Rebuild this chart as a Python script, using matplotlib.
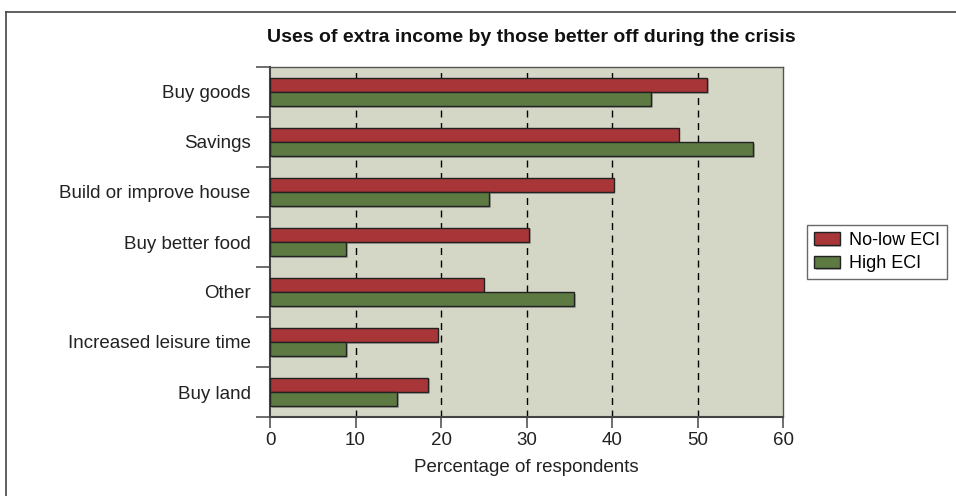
import matplotlib
matplotlib.use("Agg")
import matplotlib.pyplot as plt
import matplotlib.patheffects as pe
from matplotlib.lines import Line2D
import numpy as np

plt.rcParams['font.family'] = ['Liberation Sans', 'DejaVu Sans']

categories = ['Buy goods', 'Savings', 'Build or improve house', 'Buy better food',
              'Other', 'Increased leisure time', 'Buy land']
no_low_eci = [51.1, 47.8, 40.2, 30.3, 25.0, 19.6, 18.5]
high_eci = [44.6, 56.5, 25.6, 8.9, 35.6, 8.9, 14.9]
series_names = ['No-low ECI', 'High ECI']
xticks = [0, 10, 20, 30, 40, 50, 60]

red = '#A83537'
green = '#5C7A42'
bg = '#D4D6C6'

fig = plt.figure(figsize=(9.56, 4.96), dpi=100)
ax = fig.add_axes([270 / 956, 1 - 417 / 496, 513 / 956, 350 / 496])
ax.set_facecolor(bg)

y = np.arange(len(categories))
h = 0.285
shadow = [pe.SimplePatchShadow(offset=(1.2, -1.2), shadow_rgbFace='#888888', alpha=0.6), pe.Normal()]
b1 = ax.barh(y - h / 2, no_low_eci, height=h, color=red, edgecolor='#222222', linewidth=1.0,
             label=series_names[0], zorder=3)
b2 = ax.barh(y + h / 2, high_eci, height=h, color=green, edgecolor='#222222', linewidth=1.0,
             label=series_names[1], zorder=3)
for b in list(b1) + list(b2):
    b.set_path_effects(shadow)

for v in xticks[1:-1]:
    ax.axvline(v, color='black', linewidth=1.0, linestyle=(0, (5, 4)), zorder=1)

ax.set_xlim(0, 60)
ax.set_ylim(len(categories) - 0.5, -0.5)
ax.set_xticks(xticks)
ax.set_yticks(y)
ax.set_yticklabels(categories)
ax.set_yticks(np.arange(len(categories) + 1) - 0.5, minor=True)
ax.tick_params(axis='y', which='major', length=0, pad=14, labelsize=13.5, labelcolor='#222222')
ax.tick_params(axis='y', which='minor', length=10, width=1.2, color='#555555')
ax.tick_params(axis='x', length=8, width=1.2, color='#555555', labelsize=13.5,
               labelcolor='#222222', pad=3)
for s in ['left', 'bottom']:
    ax.spines[s].set_color('#444444')
    ax.spines[s].set_linewidth(1.5)
for s in ['top', 'right']:
    ax.spines[s].set_color('#555555')
    ax.spines[s].set_linewidth(1.0)

ax.set_xlabel('Percentage of respondents', fontsize=13.5, color='#222222', labelpad=7)
fig.text(0.5555, 1 - 37 / 496, 'Uses of extra income by those better off during the crisis',
         ha='center', va='center', fontsize=14, fontweight='bold', color='#111111')

leg = ax.legend(loc='center left', bbox_to_anchor=(807 / 956, 1 - 252 / 496),
                bbox_transform=fig.transFigure, fontsize=13, frameon=True, fancybox=False,
                edgecolor='#444444', handlelength=1.4, handleheight=0.7, handletextpad=0.5,
                borderpad=0.4, labelspacing=0.35, borderaxespad=0)
leg.get_frame().set_linewidth(1.0)

# outer frame (top and left edges)
fig.add_artist(Line2D([6 / 956, 1], [1 - 12 / 496, 1 - 12 / 496], transform=fig.transFigure,
                      color='#444444', linewidth=1.2))
fig.add_artist(Line2D([6 / 956, 6 / 956], [0, 1 - 12 / 496], transform=fig.transFigure,
                      color='#444444', linewidth=1.2))

fig.savefig('out.png', dpi=100)
